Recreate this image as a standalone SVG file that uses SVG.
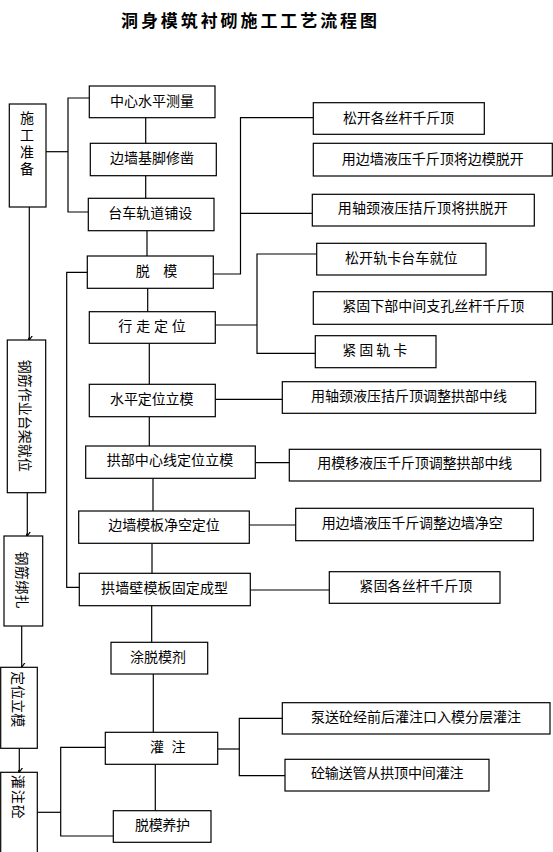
<svg xmlns="http://www.w3.org/2000/svg" width="553" height="852" viewBox="0 0 553 852">
<style>
rect{fill:#fff;stroke:#000;stroke-width:1.2}
.c line,.c polyline{stroke:#000;stroke-width:1.2;fill:none}
text{font-family:"Noto Sans CJK SC","Noto Sans",sans-serif;font-size:14px;fill:#000;dominant-baseline:central}
.t{font-size:17px;font-weight:bold}
.v{writing-mode:vertical-rl;text-orientation:upright}
</style>
<defs>
<marker id="ah" viewBox="-4 -6 8 7" markerWidth="8" markerHeight="7" refX="0" refY="0" orient="auto" markerUnits="userSpaceOnUse">
<path d="M-3.5,-5 L0,0 L3.5,-5" fill="none" stroke="#000" stroke-width="1.2" transform="rotate(-90)"/>
</marker>
</defs>
<rect x="0" y="0" width="553" height="852" style="stroke:none"/>
<text class="t" x="121" y="19" textLength="256" lengthAdjust="spacing">洞身模筑衬砌施工工艺流程图</text>

<g class="c" id="connectors">
<line x1="46" y1="151.7" x2="68" y2="151.7"/>
<polyline points="89.3,98 68,98 68,212 88.3,212"/>
<line x1="145.7" y1="117.7" x2="145.7" y2="143.3"/>
<line x1="145.7" y1="175.7" x2="145.7" y2="198.3"/>
<line x1="147" y1="230.7" x2="147" y2="256"/>
<line x1="147.7" y1="288.3" x2="147.7" y2="311.7"/>
<line x1="149.3" y1="343.3" x2="149.3" y2="384.3"/>
<line x1="149.3" y1="416.7" x2="149.3" y2="446"/>
<line x1="153" y1="478.3" x2="153" y2="511"/>
<line x1="152" y1="543.3" x2="152" y2="573.3"/>
<line x1="151.7" y1="605.7" x2="151.7" y2="642.3"/>
<line x1="153.3" y1="674" x2="153.3" y2="732.3"/>
<line x1="155.3" y1="764.3" x2="155.3" y2="810.7"/>
<polyline points="87.3,272.3 66.7,272.3 66.7,587.3 79.3,587.3"/>
<polyline points="213.3,274 240.5,274 240.5,117.7 313.3,117.7"/>
<line x1="240.5" y1="213.3" x2="312.3" y2="213.3"/>
<line x1="215.3" y1="325" x2="257" y2="325"/>
<polyline points="316.7,254 257,254 257,353.3 315.3,353.3"/>
<line x1="215.3" y1="399.3" x2="282.3" y2="399.3"/>
<line x1="255.3" y1="462.7" x2="289.3" y2="462.7"/>
<line x1="249.3" y1="525" x2="295.7" y2="525"/>
<line x1="250.3" y1="590" x2="329.3" y2="590"/>
<line x1="217.7" y1="749" x2="239.3" y2="749"/>
<polyline points="282.3,718.3 239.3,718.3 239.3,775.7 285,775.7"/>
<line x1="37.3" y1="812.3" x2="60.7" y2="812.3"/>
<polyline points="105.3,747.3 60.7,747.3 60.7,836 113.3,836"/>
<line x1="29.3" y1="207" x2="29.3" y2="340" marker-end="url(#ah)"/>
<line x1="27.3" y1="492.7" x2="27.3" y2="536" marker-end="url(#ah)"/>
<line x1="21.7" y1="626" x2="21.7" y2="667.3" marker-end="url(#ah)"/>
<line x1="19.3" y1="748.3" x2="19.3" y2="772.3" marker-end="url(#ah)"/>
</g>

<g id="n_sgzb"><rect x="9.3" y="104" width="36.7" height="103"/>
<text class="v" x="27" y="143.5" text-anchor="middle" textLength="65" lengthAdjust="spacing">施工准备</text></g>
<g id="n_gjtj"><rect x="7.3" y="340" width="38.4" height="152.7"/>
<text transform="translate(25.8,415.8) rotate(90)" text-anchor="middle" textLength="112" lengthAdjust="spacing">钢筋作业台架就位</text></g>
<g id="n_gjbz"><rect x="4" y="536" width="38.7" height="90"/>
<text transform="translate(22.5,580) rotate(90)" text-anchor="middle" textLength="57" lengthAdjust="spacing">钢筋绑扎</text></g>
<g id="n_dwlm"><rect x="0.7" y="667.3" width="36.6" height="81"/>
<text transform="translate(18.5,699.2) rotate(90)" text-anchor="middle" textLength="56" lengthAdjust="spacing">定位立模</text></g>
<g id="n_gzt"><rect x="0.7" y="772.3" width="36.6" height="90"/>
<text transform="translate(18.5,796.7) rotate(90)" text-anchor="middle" textLength="44" lengthAdjust="spacing">灌注砼</text></g>

<g id="n1"><rect x="89.3" y="86" width="125.7" height="31.7"/><text x="110" y="100" textLength="84" lengthAdjust="spacing">中心水平测量</text></g>
<g id="n2"><rect x="90.3" y="143.3" width="126" height="32.4"/><text x="110" y="157" textLength="84" lengthAdjust="spacing">边墙基脚修凿</text></g>
<g id="n3"><rect x="88.3" y="198.3" width="125.7" height="32.4"/><text x="108.3" y="212" textLength="84" lengthAdjust="spacing">台车轨道铺设</text></g>
<g id="n4"><rect x="87.3" y="256" width="126" height="32.3"/><text x="135.7" y="269.7" textLength="41.5" lengthAdjust="spacing">脱模</text></g>
<g id="n5"><rect x="89.3" y="311.7" width="126" height="31.6"/><text x="118.3" y="325.3" textLength="67.5" lengthAdjust="spacing">行走定位</text></g>
<g id="n6"><rect x="89.3" y="384.3" width="126" height="32.4"/><text x="110" y="397.8" textLength="83.5" lengthAdjust="spacing">水平定位立模</text></g>
<g id="n7"><rect x="85.7" y="446" width="169.6" height="32.3"/><text x="106.7" y="459.2" textLength="126.5" lengthAdjust="spacing">拱部中心线定位立模</text></g>
<g id="n8"><rect x="78.7" y="511" width="170.6" height="32.3"/><text x="108.3" y="523.7" textLength="111.5" lengthAdjust="spacing">边墙模板净空定位</text></g>
<g id="n9"><rect x="79.3" y="573.3" width="171" height="32.4"/><text x="101" y="586.7" textLength="127" lengthAdjust="spacing">拱墙壁模板固定成型</text></g>
<g id="n10"><rect x="111" y="642.3" width="96.7" height="31.7"/><text x="130" y="655.5" textLength="56" lengthAdjust="spacing">涂脱模剂</text></g>
<g id="n11"><rect x="105.3" y="732.3" width="112.4" height="32"/><text x="150" y="745.5" textLength="35.5" lengthAdjust="spacing">灌注</text></g>
<g id="n12"><rect x="113.3" y="810.7" width="97.7" height="31.6"/><text x="135" y="823.7" textLength="55" lengthAdjust="spacing">脱模养护</text></g>

<g id="r1"><rect x="313.3" y="102.7" width="171" height="31.6"/><text x="343" y="116.7" textLength="111" lengthAdjust="spacing">松开各丝杆千斤顶</text></g>
<g id="r2"><rect x="313.3" y="143.3" width="239" height="32.7"/><text x="341.7" y="157.5" textLength="182" lengthAdjust="spacing">用边墙液压千斤顶将边模脱开</text></g>
<g id="r3"><rect x="312.3" y="194.3" width="222" height="31.7"/><text x="337.7" y="206.7" textLength="170" lengthAdjust="spacing">用轴颈液压拮斤顶将拱脱开</text></g>
<g id="r4"><rect x="316.7" y="243.3" width="169.3" height="31.7"/><text x="345" y="257" textLength="112.5" lengthAdjust="spacing">松开轨卡台车就位</text></g>
<g id="r5"><rect x="313.3" y="291.7" width="239" height="32.6"/><text x="342.3" y="305.3" textLength="182" lengthAdjust="spacing">紧固下部中间支孔丝杆千斤顶</text></g>
<g id="r6"><rect x="315.3" y="335.7" width="120.7" height="32"/><text x="342.3" y="349" textLength="65" lengthAdjust="spacing">紧固轨卡</text></g>
<g id="r7"><rect x="282.3" y="381.7" width="253.4" height="31.6"/><text x="311" y="395" textLength="196" lengthAdjust="spacing">用轴颈液压拮斤顶调整拱部中线</text></g>
<g id="r8"><rect x="289.3" y="449.3" width="251.4" height="31.7"/><text x="317.3" y="461.7" textLength="195" lengthAdjust="spacing">用模移液压千斤顶调整拱部中线</text></g>
<g id="r9"><rect x="295.7" y="508.3" width="237.6" height="32.4"/><text x="321.7" y="521.7" textLength="181" lengthAdjust="spacing">用边墙液压千斤调整边墙净空</text></g>
<g id="r10"><rect x="329.3" y="571.7" width="170.7" height="31.6"/><text x="359.3" y="585" textLength="113" lengthAdjust="spacing">紧固各丝杆千斤顶</text></g>
<g id="r11"><rect x="282.3" y="702.7" width="267.7" height="31.3"/><text x="311" y="715.5" textLength="210" lengthAdjust="spacing">泵送砼经前后灌注口入模分层灌注</text></g>
<g id="r12"><rect x="285" y="759.3" width="204" height="31.7"/><text x="311" y="772.2" textLength="152.5" lengthAdjust="spacing">砼输送管从拱顶中间灌注</text></g>
</svg>
